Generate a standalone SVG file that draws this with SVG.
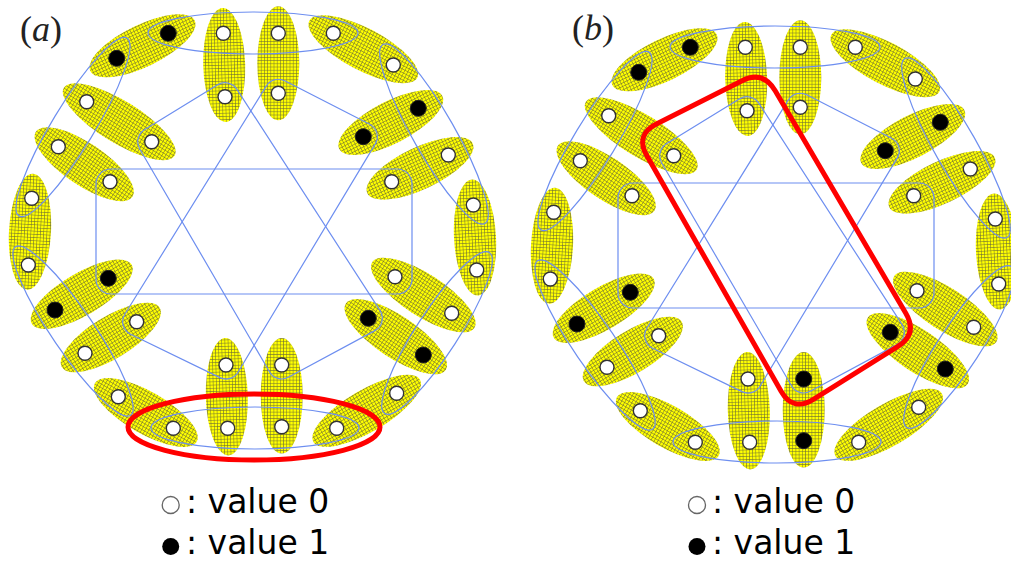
<svg xmlns="http://www.w3.org/2000/svg" width="1011" height="561" viewBox="0 0 1011 561">
<defs>
<pattern id="hatch" width="3.2" height="3.2" patternUnits="userSpaceOnUse">
<rect width="3.2" height="3.2" fill="#ffff00"/>
<path d="M0 0.3H3.2M0.3 0V3.2" stroke="#6e6e34" stroke-width="0.6"/>
</pattern>
<style>
.v{fill:url(#hatch)}
.w{fill:#fff;stroke:#333;stroke-width:1.4}
.b{fill:#000;stroke:#222;stroke-width:1}
.h{fill:none;stroke:#6d8ef0;stroke-width:1.2}
.red{fill:none;stroke:#ff0000;stroke-width:5}
.lbl{font-family:"Liberation Serif",serif;font-size:36px;fill:#222}
.leg{font-family:"DejaVu Sans",sans-serif;font-size:33px;fill:#000}
</style>
</defs>
<rect width="1011" height="561" fill="#fff"/>

<g id="panel-a">
<text class="lbl" x="20" y="41">(<tspan font-style="italic">a</tspan>)</text>
<g id="a-nodes">
<g id="a-v1"><ellipse class="v" cx="142.5" cy="45.8" rx="58" ry="21" transform="rotate(-25.8 142.5 45.8)"/><circle class="b" cx="168.3" cy="33.3" r="8"/><circle class="b" cx="116.7" cy="58.3" r="8"/></g>
<g id="a-v2"><ellipse class="v" cx="224.2" cy="65" rx="57" ry="21" transform="rotate(88.5 224.2 65)"/><circle class="w" cx="223.3" cy="33.3" r="7"/><circle class="w" cx="225" cy="96.7" r="7"/></g>
<g id="a-v3"><ellipse class="v" cx="278.3" cy="63.3" rx="57" ry="21" transform="rotate(90 278.3 63.3)"/><circle class="w" cx="278.3" cy="33.3" r="7"/><circle class="w" cx="278.3" cy="93.3" r="7"/></g>
<g id="a-v4"><ellipse class="v" cx="363.3" cy="49.2" rx="61" ry="21" transform="rotate(27.8 363.3 49.2)"/><circle class="w" cx="333.3" cy="33.3" r="7"/><circle class="w" cx="393.3" cy="65" r="7"/></g>
<g id="a-v5"><ellipse class="v" cx="390.8" cy="122.5" rx="58" ry="21" transform="rotate(-27.3 390.8 122.5)"/><circle class="b" cx="418.3" cy="108.3" r="8"/><circle class="b" cx="363.3" cy="136.7" r="8"/></g>
<g id="a-v6"><ellipse class="v" cx="420" cy="168.3" rx="58.3" ry="21" transform="rotate(-25.3 420 168.3)"/><circle class="w" cx="448.3" cy="155" r="7"/><circle class="w" cx="391.7" cy="181.7" r="7"/></g>
<g id="a-v7"><ellipse class="v" cx="475" cy="237.5" rx="58" ry="21" transform="rotate(87 475 237.5)"/><circle class="w" cx="473.3" cy="205" r="7"/><circle class="w" cx="476.7" cy="270" r="7"/></g>
<g id="a-v8"><ellipse class="v" cx="423.3" cy="295" rx="60.7" ry="21" transform="rotate(32.8 423.3 295)"/><circle class="w" cx="395" cy="276.7" r="7"/><circle class="w" cx="451.7" cy="313.3" r="7"/></g>
<g id="a-v9"><ellipse class="v" cx="395.8" cy="336.7" rx="60" ry="21" transform="rotate(33.7 395.8 336.7)"/><circle class="b" cx="368.3" cy="318.3" r="8"/><circle class="b" cx="423.3" cy="355" r="8"/></g>
<g id="a-v10"><ellipse class="v" cx="366.7" cy="410.8" rx="61.7" ry="21" transform="rotate(-30.3 366.7 410.8)"/><circle class="w" cx="396.7" cy="393.3" r="7"/><circle class="w" cx="336.7" cy="428.3" r="7"/></g>
<g id="a-v11"><ellipse class="v" cx="281.7" cy="395.8" rx="57.8" ry="21" transform="rotate(90 281.7 395.8)"/><circle class="w" cx="281.7" cy="365" r="7"/><circle class="w" cx="281.7" cy="426.7" r="7"/></g>
<g id="a-v12"><ellipse class="v" cx="226.8" cy="396.7" rx="58.7" ry="21" transform="rotate(88.5 226.8 396.7)"/><circle class="w" cx="226" cy="365" r="7"/><circle class="w" cx="227.7" cy="428.3" r="7"/></g>
<g id="a-v13"><ellipse class="v" cx="145.8" cy="412.5" rx="58.7" ry="21" transform="rotate(29.9 145.8 412.5)"/><circle class="w" cx="118.3" cy="396.7" r="7"/><circle class="w" cx="173.3" cy="428.3" r="7"/></g>
<g id="a-v14"><ellipse class="v" cx="110.8" cy="337.5" rx="57.3" ry="21" transform="rotate(-31.4 110.8 337.5)"/><circle class="w" cx="136.7" cy="321.7" r="7"/><circle class="w" cx="85" cy="353.3" r="7"/></g>
<g id="a-v15"><ellipse class="v" cx="81.7" cy="294.2" rx="58" ry="21" transform="rotate(-30.7 81.7 294.2)"/><circle class="b" cx="108.3" cy="278.3" r="8"/><circle class="b" cx="55" cy="310" r="8"/></g>
<g id="a-v16"><ellipse class="v" cx="30" cy="231.7" rx="58" ry="21" transform="rotate(93 30 231.7)"/><circle class="w" cx="31.7" cy="198.3" r="7"/><circle class="w" cx="28.3" cy="265" r="7"/></g>
<g id="a-v17"><ellipse class="v" cx="84.2" cy="164.2" rx="58.2" ry="21" transform="rotate(34.1 84.2 164.2)"/><circle class="w" cx="58.3" cy="146.7" r="7"/><circle class="w" cx="110" cy="181.7" r="7"/></g>
<g id="a-v18"><ellipse class="v" cx="119.2" cy="121.7" rx="65" ry="21" transform="rotate(31.6 119.2 121.7)"/><circle class="w" cx="86.7" cy="101.7" r="7"/><circle class="w" cx="151.7" cy="141.7" r="7"/></g>
</g>
<g id="a-connectors">
<ellipse class="h" cx="253" cy="33" rx="105" ry="21"/>
<ellipse class="h" cx="434" cy="134" rx="103" ry="21" transform="rotate(60.3 434 134)"/>
<ellipse class="h" cx="437" cy="333" rx="96" ry="21" transform="rotate(-57 437 333)"/>
<ellipse class="h" cx="255" cy="428" rx="104" ry="21"/>
<ellipse class="h" cx="73" cy="331" rx="102" ry="21" transform="rotate(55.7 73 331)"/>
<ellipse class="h" cx="73" cy="127" rx="104" ry="21" transform="rotate(-58.7 73 127)"/>
<rect class="h" x="96" y="169" width="316" height="125" rx="15"/>
<path class="h" d="M236.8 89.1L380.1 310.7A14 14 0 0 1 374.9 330.6L288.3 377.3A14 14 0 0 1 269.6 372L139.6 148.7A14 14 0 0 1 144.4 129.8L217.7 84.8A14 14 0 0 1 236.8 89.1Z"/>
<path class="h" d="M284.7 80.8L369.7 124.2A14 14 0 0 1 375.3 143.9L238 372.2A14 14 0 0 1 219.9 377.6L130.6 334.3A14 14 0 0 1 124.8 314.3L266.4 85.9A14 14 0 0 1 284.7 80.8Z"/>
</g>
<ellipse id="a-highlight" class="red" cx="254" cy="427" rx="126" ry="33"/>
<g id="a-legend">
<circle cx="170.7" cy="505" r="8.5" fill="#fff" stroke="#666" stroke-width="1.3"/>
<text class="leg" x="186" y="513">: value 0</text>
<circle cx="170.7" cy="546.5" r="8.5" fill="#000"/>
<text class="leg" x="186" y="554">: value 1</text>
</g>
</g>

<g id="panel-b">
<text class="lbl" x="572" y="40">(<tspan font-style="italic">b</tspan>)</text>
<g transform="translate(522 14)">
<g id="b-nodes">
<g id="b-v1"><ellipse class="v" cx="142.5" cy="45.8" rx="58" ry="21" transform="rotate(-25.8 142.5 45.8)"/><circle class="b" cx="168.3" cy="33.3" r="8"/><circle class="b" cx="116.7" cy="58.3" r="8"/></g>
<g id="b-v2"><ellipse class="v" cx="224.2" cy="65" rx="57" ry="21" transform="rotate(88.5 224.2 65)"/><circle class="w" cx="223.3" cy="33.3" r="7"/><circle class="w" cx="225" cy="96.7" r="7"/></g>
<g id="b-v3"><ellipse class="v" cx="278.3" cy="63.3" rx="57" ry="21" transform="rotate(90 278.3 63.3)"/><circle class="w" cx="278.3" cy="33.3" r="7"/><circle class="w" cx="278.3" cy="93.3" r="7"/></g>
<g id="b-v4"><ellipse class="v" cx="363.3" cy="49.2" rx="61" ry="21" transform="rotate(27.8 363.3 49.2)"/><circle class="w" cx="333.3" cy="33.3" r="7"/><circle class="w" cx="393.3" cy="65" r="7"/></g>
<g id="b-v5"><ellipse class="v" cx="390.8" cy="122.5" rx="58" ry="21" transform="rotate(-27.3 390.8 122.5)"/><circle class="b" cx="418.3" cy="108.3" r="8"/><circle class="b" cx="363.3" cy="136.7" r="8"/></g>
<g id="b-v6"><ellipse class="v" cx="420" cy="168.3" rx="58.3" ry="21" transform="rotate(-25.3 420 168.3)"/><circle class="w" cx="448.3" cy="155" r="7"/><circle class="w" cx="391.7" cy="181.7" r="7"/></g>
<g id="b-v7"><ellipse class="v" cx="475" cy="237.5" rx="58" ry="21" transform="rotate(87 475 237.5)"/><circle class="w" cx="473.3" cy="205" r="7"/><circle class="w" cx="476.7" cy="270" r="7"/></g>
<g id="b-v8"><ellipse class="v" cx="423.3" cy="295" rx="60.7" ry="21" transform="rotate(32.8 423.3 295)"/><circle class="w" cx="395" cy="276.7" r="7"/><circle class="w" cx="451.7" cy="313.3" r="7"/></g>
<g id="b-v9"><ellipse class="v" cx="395.8" cy="336.7" rx="60" ry="21" transform="rotate(33.7 395.8 336.7)"/><circle class="b" cx="368.3" cy="318.3" r="8"/><circle class="b" cx="423.3" cy="355" r="8"/></g>
<g id="b-v10"><ellipse class="v" cx="366.7" cy="410.8" rx="61.7" ry="21" transform="rotate(-30.3 366.7 410.8)"/><circle class="w" cx="396.7" cy="393.3" r="7"/><circle class="w" cx="336.7" cy="428.3" r="7"/></g>
<g id="b-v11"><ellipse class="v" cx="281.7" cy="395.8" rx="57.8" ry="21" transform="rotate(90 281.7 395.8)"/><circle class="b" cx="281.7" cy="365" r="8"/><circle class="b" cx="281.7" cy="426.7" r="8"/></g>
<g id="b-v12"><ellipse class="v" cx="226.8" cy="396.7" rx="58.7" ry="21" transform="rotate(88.5 226.8 396.7)"/><circle class="w" cx="226" cy="365" r="7"/><circle class="w" cx="227.7" cy="428.3" r="7"/></g>
<g id="b-v13"><ellipse class="v" cx="145.8" cy="412.5" rx="58.7" ry="21" transform="rotate(29.9 145.8 412.5)"/><circle class="w" cx="118.3" cy="396.7" r="7"/><circle class="w" cx="173.3" cy="428.3" r="7"/></g>
<g id="b-v14"><ellipse class="v" cx="110.8" cy="337.5" rx="57.3" ry="21" transform="rotate(-31.4 110.8 337.5)"/><circle class="w" cx="136.7" cy="321.7" r="7"/><circle class="w" cx="85" cy="353.3" r="7"/></g>
<g id="b-v15"><ellipse class="v" cx="81.7" cy="294.2" rx="58" ry="21" transform="rotate(-30.7 81.7 294.2)"/><circle class="b" cx="108.3" cy="278.3" r="8"/><circle class="b" cx="55" cy="310" r="8"/></g>
<g id="b-v16"><ellipse class="v" cx="30" cy="231.7" rx="58" ry="21" transform="rotate(93 30 231.7)"/><circle class="w" cx="31.7" cy="198.3" r="7"/><circle class="w" cx="28.3" cy="265" r="7"/></g>
<g id="b-v17"><ellipse class="v" cx="84.2" cy="164.2" rx="58.2" ry="21" transform="rotate(34.1 84.2 164.2)"/><circle class="w" cx="58.3" cy="146.7" r="7"/><circle class="w" cx="110" cy="181.7" r="7"/></g>
<g id="b-v18"><ellipse class="v" cx="119.2" cy="121.7" rx="65" ry="21" transform="rotate(31.6 119.2 121.7)"/><circle class="w" cx="86.7" cy="101.7" r="7"/><circle class="w" cx="151.7" cy="141.7" r="7"/></g>
</g>
<g id="b-connectors">
<ellipse class="h" cx="253" cy="33" rx="105" ry="21"/>
<ellipse class="h" cx="434" cy="134" rx="103" ry="21" transform="rotate(60.3 434 134)"/>
<ellipse class="h" cx="437" cy="333" rx="96" ry="21" transform="rotate(-57 437 333)"/>
<ellipse class="h" cx="255" cy="428" rx="104" ry="21"/>
<ellipse class="h" cx="73" cy="331" rx="102" ry="21" transform="rotate(55.7 73 331)"/>
<ellipse class="h" cx="73" cy="127" rx="104" ry="21" transform="rotate(-58.7 73 127)"/>
<rect class="h" x="96" y="169" width="316" height="125" rx="15"/>
<path class="h" d="M236.8 89.1L380.1 310.7A14 14 0 0 1 374.9 330.6L288.3 377.3A14 14 0 0 1 269.6 372L139.6 148.7A14 14 0 0 1 144.4 129.8L217.7 84.8A14 14 0 0 1 236.8 89.1Z"/>
<path class="h" d="M284.7 80.8L369.7 124.2A14 14 0 0 1 375.3 143.9L238 372.2A14 14 0 0 1 219.9 377.6L130.6 334.3A14 14 0 0 1 124.8 314.3L266.4 85.9A14 14 0 0 1 284.7 80.8Z"/>
</g>
</g>
<path id="b-highlight" class="red" d="M656.4 124.1L741.6 80.9Q763 70 775.2 90.7L905.8 313.3Q918 334 897.6 346.7L813.4 399.3Q793 412 781.1 391.2L646.9 155.8Q635 135 656.4 124.1Z"/>
<g id="b-legend">
<circle cx="697" cy="505" r="8.5" fill="#fff" stroke="#666" stroke-width="1.3"/>
<text class="leg" x="712" y="513">: value 0</text>
<circle cx="697" cy="546.5" r="8.5" fill="#000"/>
<text class="leg" x="712" y="554">: value 1</text>
</g>
</g>
</svg>
